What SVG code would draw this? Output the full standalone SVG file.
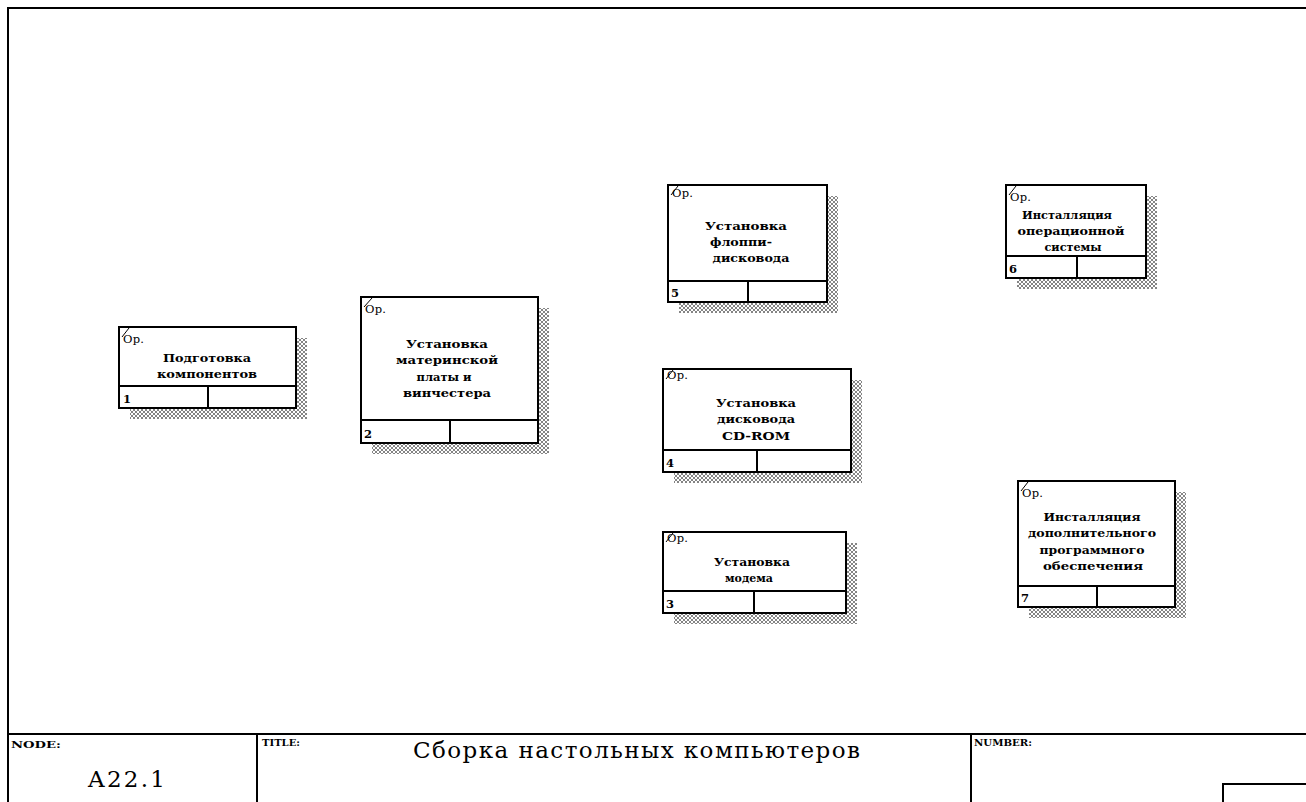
<svg xmlns="http://www.w3.org/2000/svg" width="1306" height="802" viewBox="0 0 1306 802">
<style>
.frame{fill:none;stroke:#000;stroke-width:2}
.box{fill:#fff;stroke:#000;stroke-width:2}
.ln{stroke:#000;stroke-width:2;fill:none}
.sl{stroke:#000;stroke-width:1;fill:none}
.sh{fill:url(#hatch)}
.t{font-family:"DejaVu Serif",serif;font-size:11.5px;font-weight:bold;fill:#000;text-anchor:middle}
.op{font-family:"DejaVu Serif",serif;font-size:11.5px;fill:#000}
.num{font-family:"DejaVu Serif",serif;font-size:11.5px;font-weight:bold;fill:#000}
.lab{font-family:"DejaVu Serif",serif;font-size:10px;font-weight:bold;fill:#000}
.big{font-family:"DejaVu Serif",serif;font-size:23px;fill:#000}
</style>
<defs>
<pattern id="hatch" width="4" height="4" patternUnits="userSpaceOnUse">
<rect width="4" height="4" fill="#fff"/>
<path d="M0,4 L4,0 M0,0 L4,4" stroke="#777" stroke-width="0.9"/>
</pattern>
</defs>
<rect width="1306" height="802" fill="#fff"/>
<g id="frame">
<path class="frame" d="M8,802 V8 H1306"/>
<line class="frame" x1="8" y1="734" x2="1306" y2="734"/>
<line class="frame" x1="257" y1="734" x2="257" y2="802"/>
<line class="frame" x1="971" y1="734" x2="971" y2="802"/>
<rect class="frame" x="1223" y="784" width="100" height="40"/>
<text class="lab" x="11" y="748" textLength="50" lengthAdjust="spacingAndGlyphs">NODE:</text>
<text class="lab" x="262" y="746" textLength="38" lengthAdjust="spacingAndGlyphs">TITLE:</text>
<text class="lab" x="974" y="746" textLength="58" lengthAdjust="spacingAndGlyphs">NUMBER:</text>
<text class="big" x="88" y="787" textLength="77" lengthAdjust="spacing">A22.1</text>
<text class="big" x="413" y="758" textLength="447" lengthAdjust="spacing">Сборка настольных компьютеров</text>
</g>
<g id="connectors"></g>
<g id="node-1">
<rect class="sh" x="130" y="338" width="177" height="81"/>
<rect class="box" x="119" y="327" width="177" height="81"/>
<line class="ln" x1="119" y1="386" x2="296" y2="386"/>
<line class="ln" x1="208" y1="386" x2="208" y2="408"/>
<line class="sl" x1="122" y1="337" x2="129" y2="328"/>
<text class="op" x="123" y="343" textLength="21" lengthAdjust="spacing">Ор.</text>
<text class="t" x="207" y="362" textLength="88" lengthAdjust="spacingAndGlyphs">Подготовка</text>
<text class="t" x="207" y="378" textLength="100" lengthAdjust="spacingAndGlyphs">компонентов</text>
<text class="num" x="123" y="403">1</text>
</g>
<g id="node-2">
<rect class="sh" x="372" y="308" width="177" height="146"/>
<rect class="box" x="361" y="297" width="177" height="146"/>
<line class="ln" x1="361" y1="420" x2="538" y2="420"/>
<line class="ln" x1="450" y1="420" x2="450" y2="443"/>
<line class="sl" x1="364" y1="307" x2="372" y2="298"/>
<text class="op" x="365" y="313" textLength="21" lengthAdjust="spacing">Ор.</text>
<text class="t" x="447" y="348" textLength="82" lengthAdjust="spacingAndGlyphs">Установка</text>
<text class="t" x="447" y="364" textLength="102" lengthAdjust="spacingAndGlyphs">материнской</text>
<text class="t" x="444" y="381" textLength="55" lengthAdjust="spacingAndGlyphs">платы и</text>
<text class="t" x="447" y="397" textLength="88" lengthAdjust="spacingAndGlyphs">винчестера</text>
<text class="num" x="364" y="438">2</text>
</g>
<g id="node-5">
<rect class="sh" x="679" y="196" width="159" height="117"/>
<rect class="box" x="668" y="185" width="159" height="117"/>
<line class="ln" x1="668" y1="281" x2="827" y2="281"/>
<line class="ln" x1="748" y1="281" x2="748" y2="302"/>
<line class="sl" x1="671" y1="195" x2="678" y2="186"/>
<text class="op" x="672" y="197" textLength="21" lengthAdjust="spacing">Ор.</text>
<text class="t" x="746" y="230" textLength="82" lengthAdjust="spacingAndGlyphs">Установка</text>
<text class="t" x="741" y="246" textLength="62" lengthAdjust="spacingAndGlyphs">флоппи-</text>
<text class="t" x="751" y="262" textLength="77" lengthAdjust="spacingAndGlyphs">дисковода</text>
<text class="num" x="671" y="297">5</text>
</g>
<g id="node-6">
<rect class="sh" x="1017" y="196" width="140" height="93"/>
<rect class="box" x="1006" y="185" width="140" height="93"/>
<line class="ln" x1="1006" y1="256" x2="1146" y2="256"/>
<line class="ln" x1="1077" y1="256" x2="1077" y2="278"/>
<line class="sl" x1="1009" y1="195" x2="1016" y2="186"/>
<text class="op" x="1010" y="201" textLength="21" lengthAdjust="spacing">Ор.</text>
<text class="t" x="1067" y="219" textLength="90" lengthAdjust="spacingAndGlyphs">Инсталляция</text>
<text class="t" x="1071" y="235" textLength="107" lengthAdjust="spacingAndGlyphs">операционной</text>
<text class="t" x="1073" y="251" textLength="57" lengthAdjust="spacingAndGlyphs">системы</text>
<text class="num" x="1009" y="273">6</text>
</g>
<g id="node-4">
<rect class="sh" x="674" y="380" width="188" height="103"/>
<rect class="box" x="663" y="369" width="188" height="103"/>
<line class="ln" x1="663" y1="450" x2="851" y2="450"/>
<line class="ln" x1="757" y1="450" x2="757" y2="472"/>
<line class="sl" x1="666" y1="379" x2="673" y2="370"/>
<text class="op" x="667" y="379" textLength="21" lengthAdjust="spacing">Ор.</text>
<text class="t" x="756" y="407" textLength="80" lengthAdjust="spacingAndGlyphs">Установка</text>
<text class="t" x="756" y="423" textLength="78" lengthAdjust="spacingAndGlyphs">дисковода</text>
<text class="t" x="756" y="440" textLength="68" lengthAdjust="spacingAndGlyphs">CD-ROM</text>
<text class="num" x="666" y="467">4</text>
</g>
<g id="node-3">
<rect class="sh" x="674" y="543" width="183" height="81"/>
<rect class="box" x="663" y="532" width="183" height="81"/>
<line class="ln" x1="663" y1="591" x2="846" y2="591"/>
<line class="ln" x1="754" y1="591" x2="754" y2="613"/>
<line class="sl" x1="666" y1="542" x2="673" y2="533"/>
<text class="op" x="667" y="542" textLength="21" lengthAdjust="spacing">Ор.</text>
<text class="t" x="752" y="566" textLength="76" lengthAdjust="spacingAndGlyphs">Установка</text>
<text class="t" x="749" y="582" textLength="48" lengthAdjust="spacingAndGlyphs">модема</text>
<text class="num" x="666" y="608">3</text>
</g>
<g id="node-7">
<rect class="sh" x="1029" y="492" width="157" height="126"/>
<rect class="box" x="1018" y="481" width="157" height="126"/>
<line class="ln" x1="1018" y1="586" x2="1175" y2="586"/>
<line class="ln" x1="1097" y1="586" x2="1097" y2="607"/>
<line class="sl" x1="1021" y1="491" x2="1028" y2="482"/>
<text class="op" x="1022" y="497" textLength="21" lengthAdjust="spacing">Ор.</text>
<text class="t" x="1092" y="521" textLength="97" lengthAdjust="spacingAndGlyphs">Инсталляция</text>
<text class="t" x="1092" y="537" textLength="128" lengthAdjust="spacingAndGlyphs">дополнительного</text>
<text class="t" x="1092" y="554" textLength="105" lengthAdjust="spacingAndGlyphs">программного</text>
<text class="t" x="1093" y="570" textLength="100" lengthAdjust="spacingAndGlyphs">обеспечения</text>
<text class="num" x="1021" y="602">7</text>
</g>
</svg>
